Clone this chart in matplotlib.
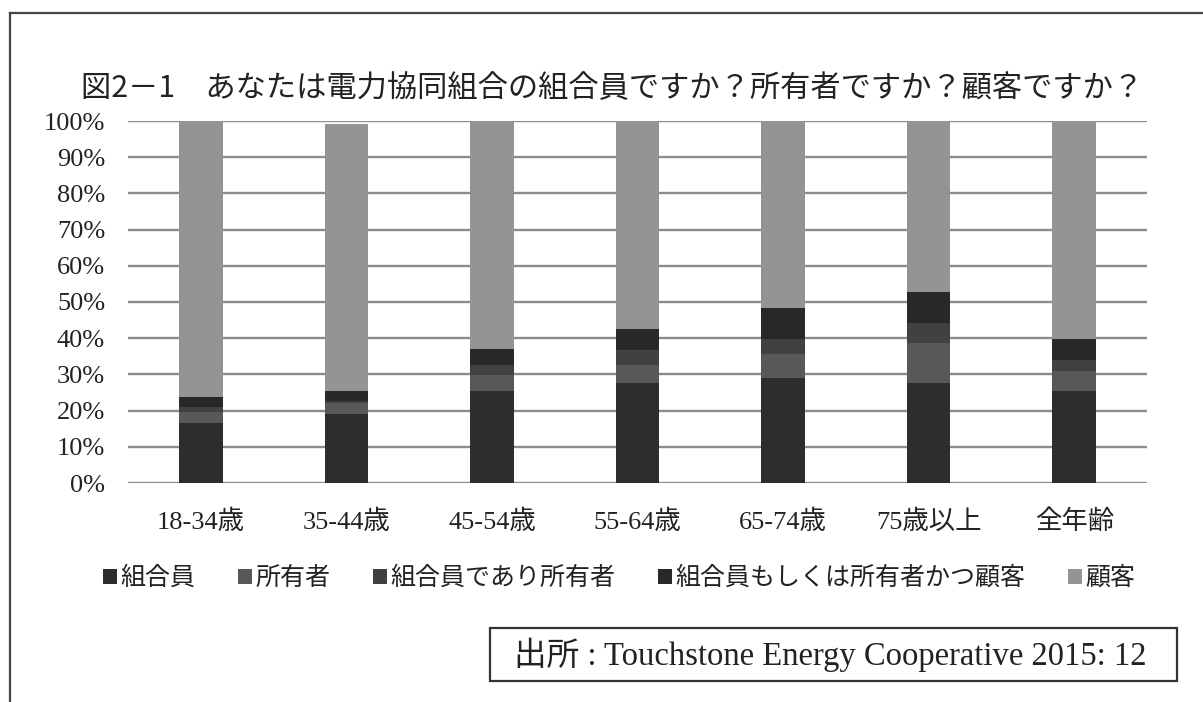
import numpy as np
import matplotlib.pyplot as plt
from matplotlib.patches import Patch, Rectangle
from matplotlib.lines import Line2D

plt.rcParams['font.family'] = ['Noto Sans CJK JP', 'DejaVu Sans']

categories = ['18-34歳', '35-44歳', '45-54歳', '55-64歳', '65-74歳', '75歳以上', '全年齢']
series_names = ['組合員', '所有者', '組合員であり所有者', '組合員もしくは所有者かつ顧客', '顧客']
kumiaiin = [16.6, 19.0, 25.5, 27.7, 29.1, 27.7, 25.5]
shoyusha = [2.9, 3.0, 4.3, 4.8, 6.5, 10.9, 5.5]
kumiaiin_shoyusha = [1.4, 0.7, 2.8, 4.2, 4.2, 5.5, 3.0]
kumiaiin_or_shoyusha_kokyaku = [2.8, 2.8, 4.3, 5.9, 8.6, 8.7, 5.8]
kokyaku = [76.3, 73.7, 63.1, 57.4, 51.6, 47.2, 60.2]
yticks = [0, 10, 20, 30, 40, 50, 60, 70, 80, 90, 100]

colors = ['#2e2c2d', '#58585a', '#414143', '#28272a', '#949496']
serif = ['Liberation Serif', 'Noto Sans CJK JP']

W, H = 1203, 702
fig = plt.figure(figsize=(W / 100, H / 100), dpi=100)

# frame lines (top and left)
fig.add_artist(Line2D([10 / W, 1], [1 - 13 / H, 1 - 13 / H], color='#444444', lw=1.6))
fig.add_artist(Line2D([10 / W, 10 / W], [0, 1 - 13 / H], color='#444444', lw=1.6))

fig.text(612 / W, 1 - 89 / H, '図2－1　あなたは電力協同組合の組合員ですか？所有者ですか？顧客ですか？',
         ha='center', va='center', fontsize=21.8, color='#222222')

ax = fig.add_axes([128 / W, 1 - 483 / H, 1019 / W, (483 - 121) / H])
x = np.arange(len(categories))
data = [kumiaiin, shoyusha, kumiaiin_shoyusha, kumiaiin_or_shoyusha_kokyaku, kokyaku]
bottom = np.zeros(len(categories))
for vals, c in zip(data, colors):
    ax.bar(x, vals, bottom=bottom, width=0.3, color=c, zorder=3)
    bottom += np.array(vals)

ax.set_xlim(-0.5, len(categories) - 0.5)
ax.set_ylim(0, 100)
ax.set_yticks(yticks)
ax.set_yticklabels([f'{v}%' for v in yticks], family=serif, fontsize=19, color='#222222')
ax.set_xticks(x)
ax.set_xticklabels(categories, family=serif, fontsize=19, color='#222222')
ax.tick_params(length=0)
ax.tick_params(axis='y', pad=16.5)
ax.tick_params(axis='x', pad=19)
ax.grid(axis='y', color='#8c8c8c', lw=1.7, zorder=0)
for s in ax.spines.values():
    s.set_visible(False)

handles = [Patch(facecolor=c) for c in colors]
fig.legend(handles, series_names, loc='center', bbox_to_anchor=(619 / W, 1 - 578 / H),
           ncol=5, frameon=False, fontsize=18, handlelength=0.55, handleheight=0.55,
           handletextpad=0.15, columnspacing=1.7, labelcolor='#222222')

fig.add_artist(Rectangle((490 / W, 1 - 681 / H), (1177 - 490) / W, (681 - 628) / H,
                         transform=fig.transFigure, fill=False, edgecolor='#333333', lw=1.6))
fig.text(830 / W, 1 - 655 / H, '出所 : Touchstone Energy Cooperative 2015: 12',
         ha='center', va='center', fontsize=23.5, family=serif, color='#222222')

fig.savefig('out.png', dpi=100)
